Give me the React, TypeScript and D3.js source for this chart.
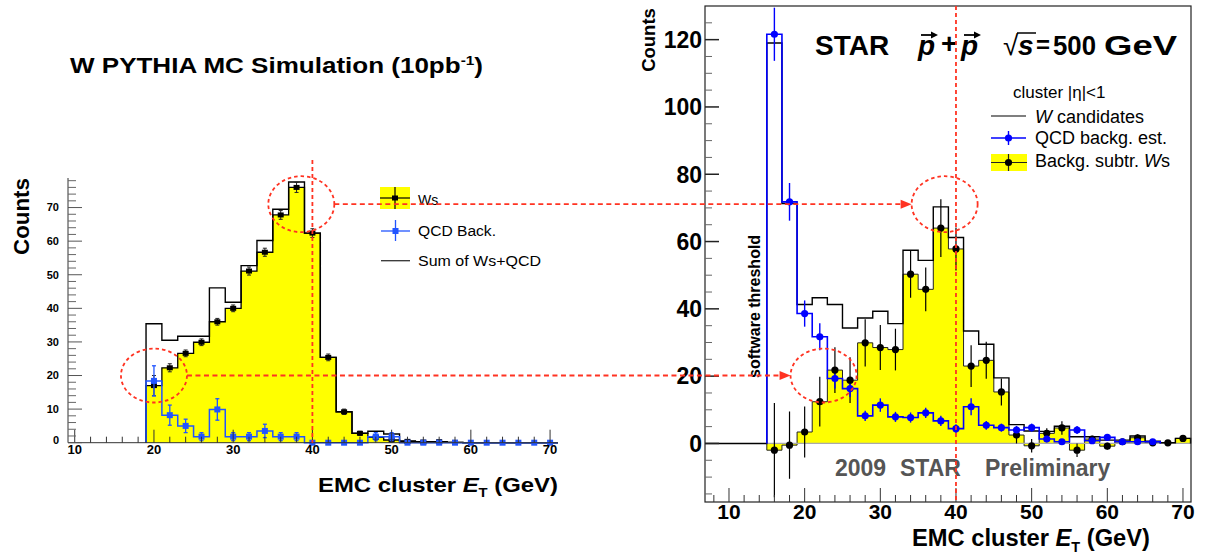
import React from "react";
import * as d3 from "d3";

// ---------- Left panel: W PYTHIA MC simulation ----------
const mcBins = [20, 22, 24, 26, 28, 30, 32, 34, 36, 38, 40, 42, 44, 46, 48, 50, 52, 54, 56, 58, 60, 62, 64, 66, 68, 70];
const mcWs = [17.0, 22.3, 26.6, 29.9, 36.0, 40.0, 51.1, 56.7, 67.8, 76.0, 62.4, 25.4, 9.2, 2.8, 1.6, 0.8, 0.4, 0.2, 0.3, 0.1, 0, 0, 0, 0, 0, 0];
const mcWsErr = [3.0, 1.2, 1.0, 1.0, 1.0, 1.0, 1.2, 1.2, 1.3, 1.5, 1.3, 1.0, 0.8, 0.6, 0.5, 0.5, 0.3, 0.2, 0.2, 0.1, 0, 0, 0, 0, 0, 0];
const mcQcd = [18.4, 8.2, 5.0, 1.8, 9.9, 1.8, 1.8, 3.5, 1.8, 1.8, 0, 0, 0, 0, 1.8, 1.8, 0, 0, 0, 0, 0, 0, 0, 0, 0, 0];
const mcQcdErr = [4.5, 3.0, 2.0, 1.2, 3.2, 1.2, 1.2, 2.0, 1.2, 1.2, 0, 0, 0, 0, 1.2, 1.2, 0, 0, 0, 0, 0, 0, 0, 0, 0, 0];
const mcSum = [35.4, 30.5, 31.7, 31.7, 46.1, 41.8, 52.7, 60.2, 69.5, 77.6, 62.4, 25.4, 9.2, 2.8, 3.4, 2.6, 0.5, 0.3, 0.3, 0.1, 0, 0, 0, 0, 0, 0];

// ---------- Right panel: STAR 2009 data ----------
const dataBins = [16, 18, 20, 22, 24, 26, 28, 30, 32, 34, 36, 38, 40, 42, 44, 46, 48, 50, 52, 54, 56, 58, 60, 62, 64, 66, 68, 70];
const wCandidates = [119.0, 71.3, 41.3, 43.3, 41.3, 34.3, 37.3, 39.3, 35.6, 57.4, 54.4, 70.3, 61.2, 33.4, 29.5, 19.5, 5.6, 3.7, 3.6, 5.1, 2.0, 2.0, 1.0, 1.0, 2.2, 0.7, 0.2, 1.5];
const qcdBackg = [121.6, 71.8, 38.6, 31.7, 19.3, 16.3, 8.2, 11.4, 7.9, 7.7, 9.1, 6.7, 4.4, 10.9, 5.4, 4.7, 4.0, 4.7, 1.3, 0.5, 4.0, 0.8, 1.8, 0.5, 0.5, 0.5, 0, 0];
const qcdBackgErr = [7.9, 5.6, 3.9, 4.0, 3.0, 2.5, 1.5, 2.0, 1.5, 1.5, 1.5, 1.5, 1.3, 2.5, 1.3, 1.2, 1.2, 1.2, 0.8, 0.5, 1.2, 0.5, 0.8, 0.4, 0.4, 0.4, 0, 0];
const wsSubtr = [-2.0, -0.5, 3.4, 12.4, 21.8, 18.8, 29.9, 28.5, 27.9, 50.3, 45.8, 64.0, 57.8, 23.0, 24.7, 15.3, 2.5, -0.7, 3.0, 4.6, -2.0, 1.3, -0.8, 0.5, 1.7, 0.2, 0.2, 1.5];
const wsSubtrErr = [14, 10, 7.6, 7.4, 6.8, 6.8, 7.0, 6.7, 6.2, 7.0, 6.5, 8.6, 6.4, 6.2, 5.5, 4.0, 2.5, 2.0, 1.5, 2.0, 2.0, 1.0, 1.0, 0.6, 1.0, 0.6, 0.5, 0.6];

const leftXTicks = [10, 20, 30, 40, 50, 60, 70];
const leftYTicks = [0, 10, 20, 30, 40, 50, 60, 70];
const rightXTicks = [10, 20, 30, 40, 50, 60, 70];
const rightYTicks = [0, 20, 40, 60, 80, 100, 120];

const FONT = "'Liberation Sans', Arial, Helvetica, sans-serif";
const RED = "#ff3322";
const YELLOW = "#ffff00";
const BLUE_R = "#0000ff";
const BLUE_L = "#2255ff";

function histPath(x: any, y: any, centers: number[], vals: number[], startX?: number) {
  const p = d3.path();
  const first = centers[0] - 1;
  if (startX !== undefined) {
    p.moveTo(x(startX), y(0));
    p.lineTo(x(first), y(0));
  } else {
    p.moveTo(x(first), y(0));
  }
  centers.forEach((c, i) => {
    p.lineTo(x(c - 1), y(vals[i]));
    p.lineTo(x(c + 1), y(vals[i]));
  });
  p.lineTo(x(centers[centers.length - 1] + 1), y(0));
  return p.toString();
}

function trimZeros(centers: number[], vals: number[]) {
  let n = vals.length;
  while (n > 1 && vals[n - 1] === 0) n--;
  return { c: centers.slice(0, n), v: vals.slice(0, n) };
}

export default function App() {
  // scales
  const xL = d3.scaleLinear().domain([9.15, 71]).range([68, 558]);
  const yL = d3.scaleLinear().domain([0, 78.8]).range([442.7, 178]);
  const xR = d3.scaleLinear().domain([6.83, 71.06]).range([705, 1191]);
  const yR = d3.scaleLinear().domain([-17.4, 130]).range([502, 6]);

  const lMinorX = d3.range(10, 71, 2);
  const lMinorY = d3.range(0, 79, 2);
  const rMinorX = d3.range(8, 71, 2);
  const rMinorY = d3.range(-15, 130, 5);

  const qR = trimZeros(dataBins, qcdBackg);

  // annotation geometry tied to scales
  const topY = yL(71);
  const lowY = yL(20);
  const ellLTop = { cx: xL(38.6), cy: topY };
  const ellLLow = { cx: xL(20), cy: lowY };
  const ellRTop = { cx: xR(38.5), cy: topY };
  const ellRLow = { cx: xR(22.5), cy: lowY };
  const RX = 33, RY = 27;

  const arrowHead = (tx: number, ty: number) =>
    `M${tx},${ty} L${tx - 11},${ty - 4.5} L${tx - 11},${ty + 4.5} Z`;

  return (
    <div style={{ position: "absolute", left: 0, top: 0 }}>
      <svg width={1205} height={556} style={{ display: "block", background: "#fff" }} fontFamily={FONT}>
        {/* ================= LEFT PANEL ================= */}
        <text x={70} y={73} fontSize={22} fontWeight="bold" textLength={413} lengthAdjust="spacingAndGlyphs">
          W PYTHIA MC Simulation (10pb<tspan dy={-8} fontSize={13}>-1</tspan><tspan dy={8}>)</tspan>
        </text>

        {/* yellow Ws histogram */}
        <path d={histPath(xL, yL, mcBins, mcWs)} fill={YELLOW} stroke="#000" strokeWidth={1.3} />
        {/* sum line */}
        <path d={histPath(xL, yL, mcBins, mcSum)} fill="none" stroke="#000" strokeWidth={1.4} />
        {/* QCD blue */}
        <path d={histPath(xL, yL, mcBins, mcQcd)} fill="none" stroke={BLUE_L} strokeWidth={1.5} />

        {/* Ws error bars + markers */}
        {mcBins.map((c, i) =>
          mcWs[i] > 0 ? (
            <g key={"lw" + c}>
              {mcWsErr[i] > 0 && (
                <g stroke="#222" strokeWidth={1}>
                  <line x1={xL(c)} x2={xL(c)} y1={yL(mcWs[i] - mcWsErr[i])} y2={yL(mcWs[i] + mcWsErr[i])} />
                  <line x1={xL(c) - 2} x2={xL(c) + 2} y1={yL(mcWs[i] - mcWsErr[i])} y2={yL(mcWs[i] - mcWsErr[i])} />
                  <line x1={xL(c) - 2} x2={xL(c) + 2} y1={yL(mcWs[i] + mcWsErr[i])} y2={yL(mcWs[i] + mcWsErr[i])} />
                </g>
              )}
              <rect x={xL(c) - 3} y={yL(mcWs[i]) - 2.5} width={6} height={5} fill="#000" />
            </g>
          ) : null
        )}
        {/* QCD error bars + markers */}
        {mcBins.map((c, i) => (
          <g key={"lq" + c}>
            {mcQcdErr[i] > 0 && (
              <g stroke={BLUE_L} strokeWidth={1.3}>
                <line x1={xL(c)} x2={xL(c)} y1={yL(mcQcd[i] - mcQcdErr[i])} y2={yL(mcQcd[i] + mcQcdErr[i])} />
                <line x1={xL(c) - 2} x2={xL(c) + 2} y1={yL(mcQcd[i] - mcQcdErr[i])} y2={yL(mcQcd[i] - mcQcdErr[i])} />
                <line x1={xL(c) - 2} x2={xL(c) + 2} y1={yL(mcQcd[i] + mcQcdErr[i])} y2={yL(mcQcd[i] + mcQcdErr[i])} />
              </g>
            )}
            <rect x={xL(c) - 3} y={yL(mcQcd[i]) - 3} width={6} height={6} fill={BLUE_L} />
          </g>
        ))}

        {/* left axes */}
        <g stroke="#333" strokeWidth={1}>
          <line x1={xL.range()[0]} x2={xL.range()[1]} y1={yL(0)} y2={yL(0)} />
          <line x1={xL.range()[0]} x2={xL.range()[0]} y1={yL(0)} y2={yL.range()[1]} />
          {lMinorX.map((t) => (
            <line key={"lmx" + t} x1={xL(t)} x2={xL(t)} y1={yL(0)} y2={yL(0) - (t % 10 === 0 ? 13 : 6)} />
          ))}
          {lMinorY.map((t) => (
            <line key={"lmy" + t} x1={xL.range()[0]} x2={xL.range()[0] + (t % 10 === 0 ? 14 : 8)} y1={yL(t)} y2={yL(t)} stroke={t % 10 === 0 ? "#555" : "#666"} />
          ))}
        </g>
        {leftXTicks.map((t) => (
          <text key={"lxt" + t} x={xL(t)} y={454} fontSize={13} fontWeight="bold" textAnchor="middle">{t}</text>
        ))}
        {leftYTicks.map((t) => (
          <text key={"lyt" + t} x={59} y={yL(t) - (t === 0 ? 3 : 0)} dy="0.35em" fontSize={11} fontWeight="bold" textAnchor="end">{t}</text>
        ))}
        <text transform={`translate(29,216.5) rotate(-90)`} fontSize={22} fontWeight="bold" textAnchor="middle" textLength={77} lengthAdjust="spacingAndGlyphs">Counts</text>
        <text x={558} y={492} fontSize={21} fontWeight="bold" textAnchor="end" textLength={240} lengthAdjust="spacingAndGlyphs">
          EMC cluster <tspan fontStyle="italic">E</tspan><tspan fontSize={13} dy={5}>T</tspan><tspan dy={-5}> (GeV)</tspan>
        </text>

        {/* left legend */}
        <rect x={380} y={187} width={30} height={22} fill={YELLOW} />
        <line x1={380} x2={410} y1={198} y2={198} stroke="#000" strokeWidth={1.2} />
        <line x1={395} x2={395} y1={187} y2={209} stroke="#000" strokeWidth={1.2} />
        <rect x={392} y={195.5} width={6} height={5} fill="#000" />
        <text x={418} y={205} fontSize={14}>Ws</text>
        <line x1={381} x2={410} y1={231} y2={231} stroke={BLUE_L} strokeWidth={1.3} />
        <line x1={395.5} x2={395.5} y1={220} y2={241} stroke={BLUE_L} strokeWidth={1.3} />
        <rect x={392.5} y={228} width={6} height={6} fill={BLUE_L} />
        <text x={418} y={236} fontSize={14} textLength={78} lengthAdjust="spacingAndGlyphs">QCD Back.</text>
        <line x1={381} x2={410} y1={260.7} y2={260.7} stroke="#333" strokeWidth={1.3} />
        <text x={418} y={266} fontSize={14} textLength={123} lengthAdjust="spacingAndGlyphs">Sum of Ws+QCD</text>

        {/* ================= RIGHT PANEL ================= */}
        {/* yellow background-subtracted Ws */}
        <path d={histPath(xR, yR, dataBins, wsSubtr)} fill={YELLOW} stroke="#222" strokeWidth={1} />
        {/* zero line */}
        <line x1={xR(15)} x2={xR.range()[1]} y1={yR(0)} y2={yR(0)} stroke="#aaa" strokeWidth={1.2} />
        {/* W candidates */}
        <path d={histPath(xR, yR, dataBins, wCandidates, xR.domain()[0])} fill="none" stroke="#000" strokeWidth={1.4} />
        {/* QCD background */}
        <path d={histPath(xR, yR, qR.c, qR.v)} fill="none" stroke={BLUE_R} strokeWidth={1.6} />

        {/* Ws error bars */}
        {dataBins.map((c, i) => {
          const lo = Math.max(wsSubtr[i] - wsSubtrErr[i], yR.domain()[0] + 0.3);
          return (
            <line key={"rw" + c} x1={xR(c)} x2={xR(c)} y1={yR(lo)} y2={yR(wsSubtr[i] + wsSubtrErr[i])} stroke="#000" strokeWidth={1.2} />
          );
        })}
        {/* QCD error bars */}
        {dataBins.map((c, i) =>
          qcdBackg[i] > 0 ? (
            <line key={"rqe" + c} x1={xR(c)} x2={xR(c)} y1={yR(qcdBackg[i] - qcdBackgErr[i])} y2={yR(qcdBackg[i] + qcdBackgErr[i])} stroke={BLUE_R} strokeWidth={1.4} />
          ) : null
        )}
        {dataBins.map((c, i) => (
          <circle key={"rwm" + c} cx={xR(c)} cy={yR(wsSubtr[i])} r={3.6} fill="#000" />
        ))}
        {dataBins.map((c, i) =>
          qcdBackg[i] > 0 ? <circle key={"rqm" + c} cx={xR(c)} cy={yR(qcdBackg[i])} r={3.6} fill={BLUE_R} /> : null
        )}

        {/* right frame and axes */}
        <rect x={705} y={6} width={486} height={496} fill="none" stroke="#222" strokeWidth={1.2} />
        <g stroke="#333" strokeWidth={1}>
          {rMinorX.map((t) => (
            <line key={"rmx" + t} x1={xR(t)} x2={xR(t)} y1={yR.range()[0]} y2={yR.range()[0] - (t % 10 === 0 ? 14 : 7)} />
          ))}
          {rMinorY.map((t) => (
            <line key={"rmy" + t} x1={705} x2={705 + (t % 20 === 0 ? 14 : 7)} y1={yR(t)} y2={yR(t)} stroke={t % 20 === 0 ? "#222" : "#666"} strokeWidth={t % 20 === 0 ? 1.5 : 1} />
          ))}
        </g>
        {rightXTicks.map((t) => (
          <text key={"rxt" + t} x={xR(t)} y={519} fontSize={21} fontWeight="bold" textAnchor="middle">{t}</text>
        ))}
        {rightYTicks.map((t) => (
          <text key={"ryt" + t} x={702} y={yR(t)} dy="0.36em" fontSize={23} fontWeight="bold" textAnchor="end">{t}</text>
        ))}
        <text transform={`translate(655,40) rotate(-90)`} fontSize={18.5} fontWeight="bold" textAnchor="middle">Counts</text>
        <text x={1150} y={546} fontSize={23} fontWeight="bold" textAnchor="end" textLength={238} lengthAdjust="spacingAndGlyphs">
          EMC cluster <tspan fontStyle="italic">E</tspan><tspan fontSize={14} dy={6}>T</tspan><tspan dy={-6}> (GeV)</tspan>
        </text>

        {/* STAR header */}
        <text x={815} y={55} fontSize={28} fontWeight="bold">STAR</text>
        <text x={918} y={55} fontSize={28} fontWeight="bold" fontStyle="italic">p</text>
        <line x1={921} x2={935} y1={35} y2={35} stroke="#000" strokeWidth={1.8} />
        <path d="M938,35 L931,31.5 L931,38.5 Z" fill="#000" />
        <text x={941} y={53} fontSize={28} fontWeight="bold">+</text>
        <text x={961} y={55} fontSize={28} fontWeight="bold" fontStyle="italic">p</text>
        <line x1={964} x2={978} y1={35} y2={35} stroke="#000" strokeWidth={1.8} />
        <path d="M981,35 L974,31.5 L974,38.5 Z" fill="#000" />
        <text x={1003} y={55} fontSize={28}>√</text>
        <line x1={1017} x2={1036} y1={33} y2={33} stroke="#000" strokeWidth={1.5} />
        <text x={1018} y={55} fontSize={28} fontWeight="bold" fontStyle="italic">s</text>
        <text x={1036} y={53} fontSize={24} fontWeight="bold">=</text>
        <text x={1053} y={55} fontSize={28} fontWeight="bold" textLength={43} lengthAdjust="spacingAndGlyphs">500</text>
        <text x={1104} y={55} fontSize={28} fontWeight="bold" textLength={73} lengthAdjust="spacingAndGlyphs">GeV</text>

        {/* right legend */}
        <text x={1013} y={98} fontSize={17}>cluster |η|&lt;1</text>
        <line x1={991} x2={1026} y1={116} y2={116} stroke="#000" strokeWidth={1.2} />
        <text x={1035} y={123} fontSize={18}><tspan fontStyle="italic">W</tspan> candidates</text>
        <line x1={991} x2={1026} y1={138} y2={138} stroke={BLUE_R} strokeWidth={1.6} />
        <line x1={1008.5} x2={1008.5} y1={131} y2={145} stroke={BLUE_R} strokeWidth={1.4} />
        <circle cx={1008.5} cy={138} r={3.6} fill={BLUE_R} />
        <text x={1035} y={144} fontSize={18}>QCD backg. est.</text>
        <rect x={991} y={154} width={36} height={17} fill={YELLOW} />
        <line x1={991} x2={1027} y1={162.5} y2={162.5} stroke="#222" strokeWidth={1.2} />
        <line x1={1008.5} x2={1008.5} y1={154} y2={171} stroke="#222" strokeWidth={1.2} />
        <circle cx={1008.5} cy={162.5} r={3.6} fill="#000" />
        <text x={1035} y={167} fontSize={18}>Backg. subtr. <tspan fontStyle="italic">W</tspan>s</text>

        {/* software threshold */}
        <text transform={`translate(760,378) rotate(-90)`} fontSize={16} fontWeight="bold">software threshold</text>

        {/* preliminary label */}
        <g fill="#555" fontSize={23} fontWeight="bold">
          <text x={835} y={476}>2009</text>
          <text x={900} y={476}>STAR</text>
          <text x={985} y={476}>Preliminary</text>
        </g>

        {/* ================= RED ANNOTATIONS ================= */}
        <g stroke={RED} fill="none" strokeWidth={1.8}>
          <line x1={xL(40)} x2={xL(40)} y1={160} y2={yL(0)} strokeDasharray="4,3" />
          <line x1={xR(40)} x2={xR(40)} y1={yR.range()[1]} y2={yR.range()[0]} strokeDasharray="4,3" />
          <ellipse cx={ellLTop.cx} cy={ellLTop.cy} rx={RX} ry={RY + 1} strokeDasharray="3.5,3" />
          <ellipse cx={ellLLow.cx} cy={ellLLow.cy} rx={RX} ry={RY} strokeDasharray="3.5,3" />
          <ellipse cx={ellRTop.cx} cy={ellRTop.cy} rx={RX} ry={RY + 1} strokeDasharray="3.5,3" />
          <ellipse cx={ellRLow.cx} cy={ellRLow.cy} rx={RX} ry={RY} strokeDasharray="3.5,3" />
          <line x1={ellLTop.cx + RX} x2={ellRTop.cx - RX - 10} y1={topY} y2={topY} strokeDasharray="5,3.5" />
          <line x1={ellLLow.cx + RX} x2={ellRLow.cx - RX - 10} y1={lowY} y2={lowY} strokeDasharray="5,3.5" />
        </g>
        <path d={arrowHead(ellRTop.cx - RX, topY)} fill={RED} />
        <path d={arrowHead(ellRLow.cx - RX, lowY)} fill={RED} />
      </svg>
    </div>
  );
}
